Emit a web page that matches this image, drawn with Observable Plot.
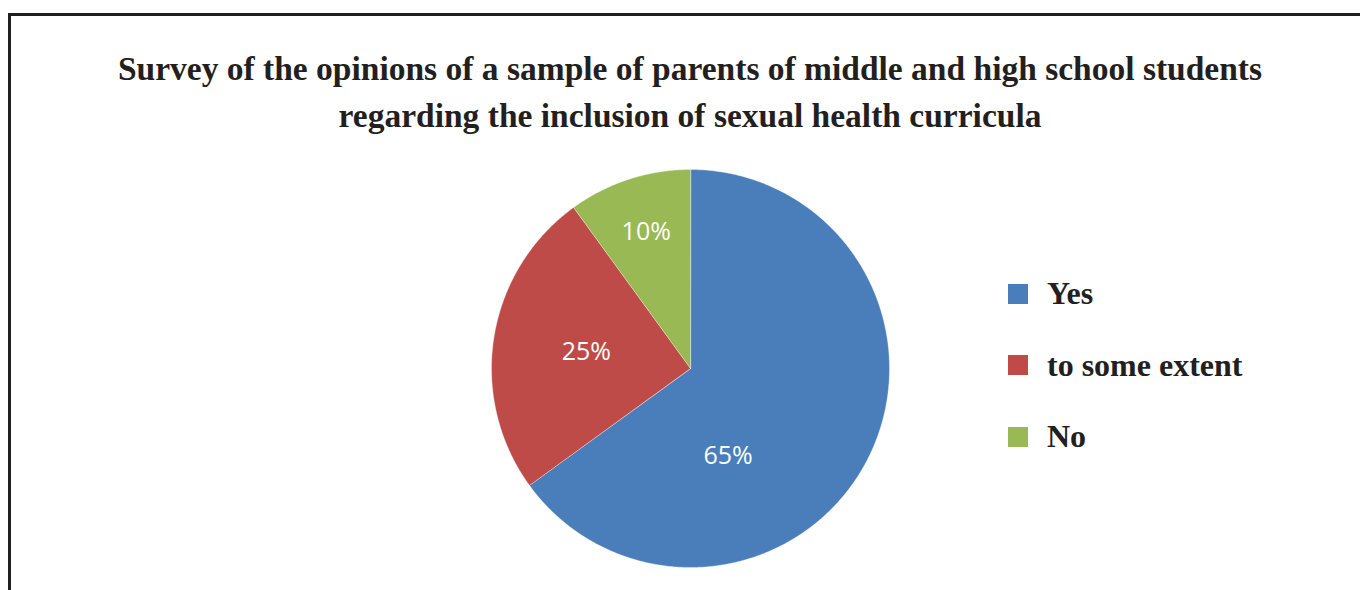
<!DOCTYPE html>
<html><head><meta charset="utf-8">
<script src="https://cdn.jsdelivr.net/npm/d3@7"></script>
<script src="https://cdn.jsdelivr.net/npm/@observablehq/plot@0.6"></script>
<style>
html,body{margin:0;padding:0;background:#fff;}
#wrap{position:relative;width:1360px;height:590px;overflow:hidden;}
#frame{position:absolute;left:8px;top:13px;width:1400px;height:700px;border-top:3px solid #231f20;border-left:3px solid #231f20;box-sizing:border-box;}
#chart{position:absolute;left:0;top:0;}
#title{position:absolute;left:0;width:1380px;top:45px;text-align:center;font-family:"Liberation Serif",serif;font-weight:bold;font-size:33.5px;line-height:47px;color:#231f20;white-space:nowrap;}
.leg{position:absolute;left:1008px;height:32px;font-family:"Liberation Serif",serif;font-weight:bold;font-size:32px;line-height:32px;color:#231f20;white-space:nowrap;}
.sw{position:absolute;left:0;width:20px;height:20px;}
.lt{position:absolute;left:39px;top:0;}
</style></head>
<body>
<div id="wrap">
  <div id="frame"></div>
  <div id="chart"></div>
  <div id="title">Survey of the opinions of a sample of parents of middle and high school students<br>regarding the inclusion of sexual health curricula</div>
  <div id="legend"></div>
</div>
<script>
// ---- data ----
const categories = ["Yes", "to some extent", "No"];
const shares = [65, 25, 10];
const labels = ["65%", "25%", "10%"];
// ---- styling / layout ----
const colors = ["#4A7EBB", "#BE4B48", "#98B954"];
// label placement inside each slice: [angle within slice (0..1), radius fraction]
const labelSpot = [[0.67, 0.48], [0.5, 0.53], [0.5, 0.72]];

const pie = d3.pie().sort(null).value(d => d.value)(categories.map((c, i) => ({cat: c, value: shares[i]})));

const pts = [];
pie.forEach(s => {
  const n = Math.max(2, Math.ceil((s.endAngle - s.startAngle) / (Math.PI / 360)));
  pts.push({cat: s.data.cat, x: 0, y: 0});
  for (let k = 0; k <= n; k++) {
    const a = s.startAngle + (s.endAngle - s.startAngle) * k / n;
    pts.push({cat: s.data.cat, x: Math.sin(a), y: Math.cos(a)});
  }
});
const labelPts = pie.map((s, i) => {
  const a = s.startAngle + (s.endAngle - s.startAngle) * labelSpot[i][0];
  const r = labelSpot[i][1];
  return {label: labels[i], x: r * Math.sin(a), y: r * Math.cos(a)};
});

const R = 199, cx = 690, cy = 368, W = 1360, H = 590;
const chart = Plot.plot({
  width: W, height: H,
  marginLeft: cx - R, marginRight: W - cx - R,
  marginTop: cy - R, marginBottom: H - cy - R,
  x: {domain: [-1, 1], axis: null},
  y: {domain: [-1, 1], axis: null},
  color: {domain: categories, range: colors},
  style: {background: "transparent", overflow: "visible"},
  marks: [
    Plot.line(pts, {x: "x", y: "y", z: "cat", fill: "cat", stroke: "#ffffff", strokeWidth: 0.6, strokeOpacity: 0.6, curve: "linear-closed"}),
    Plot.text(labelPts, {x: "x", y: "y", text: "label", fill: "white", fontSize: 25, fontFamily: "Open Sans", fontWeight: 400})
  ]
});
document.getElementById("chart").appendChild(chart);

const leg = document.getElementById("legend");
const baselines = [304, 375.5, 447];
categories.forEach((c, i) => {
  const row = document.createElement("div");
  row.className = "leg";
  row.style.top = (baselines[i] - 26.8) + "px";
  row.innerHTML = `<div class="sw" style="top:6.8px;background:${colors[i]}"></div><div class="lt">${c}</div>`;
  leg.appendChild(row);
});
</script>
</body></html>
